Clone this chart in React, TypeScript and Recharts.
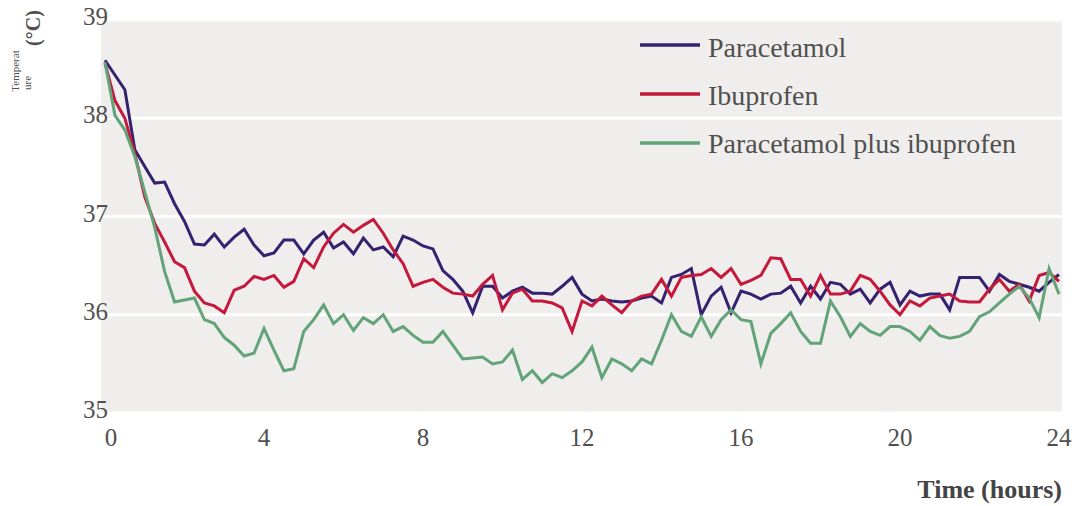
import React from 'react';
import { LineChart, Line, XAxis, YAxis, CartesianGrid } from 'recharts';

const hours = [
  0, 0.25, 0.5, 0.75, 1, 1.25, 1.5, 1.75, 2, 2.25, 2.5, 2.75, 3, 3.25, 3.5, 3.75, 4,
  4.25, 4.5, 4.75, 5, 5.25, 5.5, 5.75, 6, 6.25, 6.5, 6.75, 7, 7.25, 7.5, 7.75, 8,
  8.25, 8.5, 8.75, 9, 9.25, 9.5, 9.75, 10, 10.25, 10.5, 10.75, 11, 11.25, 11.5, 11.75, 12,
  12.25, 12.5, 12.75, 13, 13.25, 13.5, 13.75, 14, 14.25, 14.5, 14.75, 15, 15.25, 15.5, 15.75, 16,
  16.25, 16.5, 16.75, 17, 17.25, 17.5, 17.75, 18, 18.25, 18.5, 18.75, 19, 19.25, 19.5, 19.75, 20,
  20.25, 20.5, 20.75, 21, 21.25, 21.5, 21.75, 22, 22.25, 22.5, 22.75, 23, 23.25, 23.5, 23.75, 24,
];

const paracetamol = [
  38.59, 38.44, 38.29, 37.68, 37.51, 37.34, 37.35, 37.13, 36.95, 36.72, 36.71, 36.82, 36.69, 36.79, 36.87, 36.71, 36.6,
  36.63, 36.76, 36.76, 36.62, 36.76, 36.84, 36.68, 36.74, 36.62, 36.78, 36.66, 36.69, 36.59, 36.8, 36.76, 36.7,
  36.67, 36.45, 36.36, 36.24, 36.02, 36.29, 36.29, 36.17, 36.24, 36.28, 36.22, 36.22, 36.21, 36.29, 36.38, 36.21,
  36.14, 36.16, 36.14, 36.13, 36.14, 36.17, 36.19, 36.12, 36.38, 36.41, 36.47, 36.0, 36.19, 36.28, 36.02, 36.24,
  36.21, 36.16, 36.21, 36.22, 36.29, 36.12, 36.29, 36.16, 36.33, 36.31, 36.21, 36.26, 36.12, 36.26, 36.33, 36.1,
  36.24, 36.19, 36.21, 36.21, 36.05, 36.38, 36.38, 36.38, 36.24, 36.41, 36.34, 36.31, 36.28, 36.24, 36.33, 36.41,
];

const ibuprofen = [
  38.56, 38.18, 38.0, 37.64, 37.2, 36.93, 36.74, 36.54, 36.48, 36.24, 36.12, 36.09, 36.02, 36.25, 36.29, 36.39, 36.36,
  36.4, 36.28, 36.34, 36.57, 36.48, 36.69, 36.83, 36.92, 36.84, 36.91, 36.97, 36.83, 36.66, 36.52, 36.29, 36.33,
  36.36, 36.28, 36.22, 36.21, 36.19, 36.31, 36.4, 36.05, 36.22, 36.26, 36.14, 36.14, 36.12, 36.07, 35.83, 36.14,
  36.09, 36.19, 36.1, 36.02, 36.14, 36.19, 36.21, 36.36, 36.19, 36.38, 36.4, 36.41, 36.47, 36.38, 36.47, 36.31,
  36.35, 36.4, 36.58, 36.57, 36.36, 36.36, 36.19, 36.4, 36.21, 36.21, 36.24, 36.4, 36.36, 36.24, 36.1, 36.0,
  36.14, 36.09, 36.17, 36.19, 36.21, 36.14, 36.13, 36.13, 36.26, 36.36, 36.24, 36.31, 36.14, 36.4, 36.43, 36.34,
];

const combined = [
  38.57, 38.03, 37.88, 37.61, 37.25, 36.89, 36.44, 36.13, 36.15, 36.17, 35.95, 35.91, 35.77, 35.69, 35.58, 35.61, 35.86,
  35.64, 35.43, 35.45, 35.83, 35.95, 36.1, 35.91, 36.0, 35.84, 35.97, 35.91, 36.0, 35.83, 35.88, 35.79, 35.72,
  35.72, 35.83, 35.69, 35.55, 35.56, 35.57, 35.5, 35.52, 35.64, 35.34, 35.43, 35.31, 35.4, 35.36, 35.43, 35.52,
  35.67, 35.36, 35.55, 35.5, 35.43, 35.55, 35.5, 35.74, 36.0, 35.83, 35.78, 35.98, 35.78, 35.95, 36.05, 35.95,
  35.93, 35.5, 35.81, 35.91, 36.02, 35.83, 35.71, 35.71, 36.14, 35.98, 35.78, 35.91, 35.83, 35.79, 35.88, 35.88,
  35.83, 35.74, 35.88, 35.79, 35.76, 35.78, 35.83, 35.98, 36.03, 36.12, 36.21, 36.29, 36.17, 35.97, 36.47, 36.21,
];

const seriesNames = ['Paracetamol', 'Ibuprofen', 'Paracetamol plus ibuprofen'];
const seriesKeys = ['p', 'i', 'c'];
const seriesColors = ['#35216f', '#c4183c', '#62a378'];
const xTicks = [0, 4, 8, 12, 16, 20, 24];
const yTicks = [35, 36, 37, 38, 39];
const xTitle = 'Time (hours)';
const yTitleSmall = ['Temperat', 'ure'];
const yTitleUnit = '(°C)';

const data = hours.map((h, k) => ({ h, p: paracetamol[k], i: ibuprofen[k], c: combined[k] }));

const FONT = '"Liberation Serif", "Times New Roman", serif';
const TEXT = '#505050';

const XTick = (props: any) => {
  const { x, y, payload } = props;
  const nudge = payload.value === 0 ? 6 : 0;
  return (
    <text x={x + nudge} y={y + 25} textAnchor="middle" fontSize={25} fontFamily={FONT} fill={TEXT}>
      {payload.value}
    </text>
  );
};

const YTick = (props: any) => {
  const { x, y, payload } = props;
  return (
    <text x={x + 15} y={y + 5} textAnchor="end" fontSize={25} fontFamily={FONT} fill={TEXT}>
      {payload.value}
    </text>
  );
};

export default function App() {
  return (
    <div style={{ position: 'absolute', left: 0, top: 0, width: 1080, height: 506, background: '#fff' }}>
      <LineChart width={1080} height={506} data={data} margin={{ top: 20, right: 18, bottom: 63, left: 41 }}>
        <CartesianGrid vertical={false} stroke="#ffffff" strokeWidth={3} fill="#efeeec" />
        <XAxis
          dataKey="h"
          type="number"
          domain={[0, 24]}
          ticks={xTicks}
          axisLine={false}
          tickLine={false}
          tick={<XTick />}
          padding={{ left: 4, right: 3 }}
          height={30}
        />
        <YAxis
          type="number"
          domain={[35, 39]}
          ticks={yTicks}
          axisLine={false}
          tickLine={false}
          tick={<YTick />}
          width={60}
        />
        {seriesKeys.map((k, idx) => (
          <Line
            key={k}
            type="linear"
            dataKey={k}
            name={seriesNames[idx]}
            stroke={seriesColors[idx]}
            strokeWidth={3}
            dot={false}
            isAnimationActive={false}
          />
        ))}
      </LineChart>
      <svg
        width={1080}
        height={506}
        style={{ position: 'absolute', left: 0, top: 0, pointerEvents: 'none' }}
      >
        {seriesNames.map((n, k) => (
          <g key={n}>
            <line x1={640} x2={700} y1={45 + k * 49} y2={45 + k * 49} stroke={seriesColors[k]} strokeWidth={3.5} />
            <text x={708} y={57 + k * 48} fontSize={28} fontFamily={FONT} fill={TEXT}>
              {n}
            </text>
          </g>
        ))}
        <text
          transform="translate(19,71) rotate(-90)"
          textAnchor="middle"
          fontSize={11}
          fontFamily={FONT}
          fill={TEXT}
        >
          {yTitleSmall[0]}
        </text>
        <text
          transform="translate(31,83) rotate(-90)"
          textAnchor="middle"
          fontSize={11}
          fontFamily={FONT}
          fill={TEXT}
        >
          {yTitleSmall[1]}
        </text>
        <text
          transform="translate(40,28) rotate(-90)"
          textAnchor="middle"
          fontSize={20}
          fontWeight="bold"
          fontFamily={FONT}
          fill={TEXT}
        >
          {yTitleUnit}
        </text>
        <text x={1062} y={498} textAnchor="end" fontSize={26} fontWeight="bold" fontFamily={FONT} fill="#444">
          {xTitle}
        </text>
      </svg>
    </div>
  );
}
